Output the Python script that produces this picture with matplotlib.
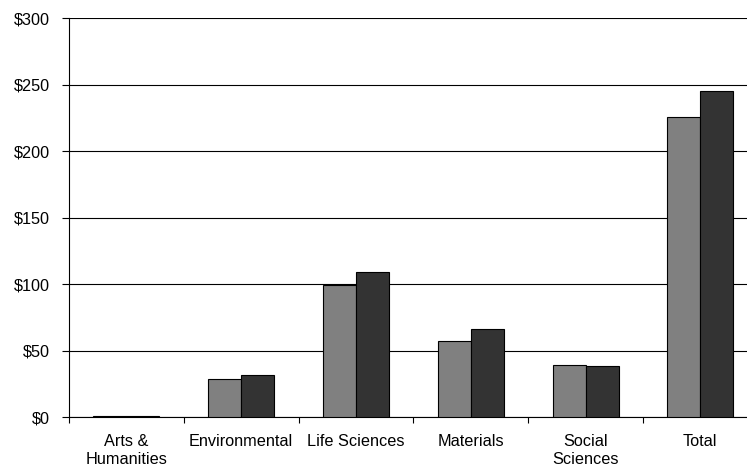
import numpy as np
import matplotlib.pyplot as plt
from matplotlib.ticker import FuncFormatter, FixedLocator

categories = ['Arts &\nHumanities', 'Environmental', 'Life Sciences',
              'Materials', 'Social\nSciences', 'Total']
series_a = [1, 29, 99.5, 57, 39, 225.5]
series_b = [1, 32, 109, 66.5, 38.5, 245.5]

plt.rcParams['font.family'] = ['Liberation Sans', 'DejaVu Sans']

fig = plt.figure(figsize=(7.47, 4.66), dpi=100)
# the plot area runs a little past the right edge of the picture
ax = fig.add_axes([0.0924, 0.105, 0.922, 0.856])

x = np.arange(len(categories))
w = 0.288
ax.bar(x - w / 2, series_a, w, color='#808080', edgecolor='black', linewidth=0.8, zorder=3)
ax.bar(x + w / 2, series_b, w, color='#333333', edgecolor='black', linewidth=0.8, zorder=3)

ax.set_xlim(-0.5, len(categories) - 0.5)
ax.set_ylim(0, 300)
ax.set_yticks(np.arange(0, 301, 50))
ax.yaxis.set_major_formatter(FuncFormatter(lambda v, p: f'${v:.0f}'))
ax.yaxis.grid(True, color='black', linewidth=0.8, zorder=0)

ax.set_xticks(x)
ax.set_xticklabels(categories, fontsize=11.7, linespacing=1.25)
ax.xaxis.set_minor_locator(FixedLocator(np.arange(-0.5, len(categories), 1.0)))
ax.tick_params(axis='x', which='major', length=0, pad=12.5)
ax.tick_params(axis='x', which='minor', length=4.5, width=0.8, direction='out')
ax.tick_params(axis='y', length=5, width=0.8, direction='out', labelsize=11.7, pad=9)

for s in ['top', 'right']:
    ax.spines[s].set_visible(False)
ax.spines['left'].set_linewidth(0.8)
ax.spines['bottom'].set_linewidth(0.8)

fig.savefig('out.png', dpi=100)
